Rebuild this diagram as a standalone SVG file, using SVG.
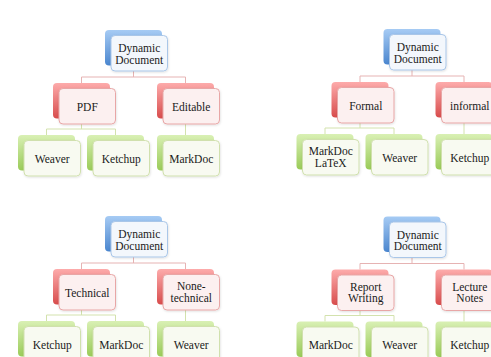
<svg xmlns="http://www.w3.org/2000/svg" width="491" height="357" viewBox="0 0 491 357">
<defs>
<linearGradient id="gB" x1="0" y1="0" x2="0" y2="1"><stop offset="0" stop-color="#a6cbf4"/><stop offset="1" stop-color="#4a86cf"/></linearGradient>
<linearGradient id="gR" x1="0" y1="0" x2="0" y2="1"><stop offset="0" stop-color="#fdabab"/><stop offset="1" stop-color="#d84c4c"/></linearGradient>
<linearGradient id="gG" x1="0" y1="0" x2="0" y2="1"><stop offset="0" stop-color="#d9f0b4"/><stop offset="1" stop-color="#9acb58"/></linearGradient>
<linearGradient id="gL" x1="0" y1="0" x2="1" y2="0"><stop offset="0" stop-color="#e6e6e6" stop-opacity="0.3"/><stop offset="0.5" stop-color="#dcdcdc"/><stop offset="1" stop-color="#eeeeee" stop-opacity="0.2"/></linearGradient>
<filter id="sh" x="-20%" y="-20%" width="140%" height="140%"><feDropShadow dx="0.5" dy="1" stdDeviation="1" flood-color="#000" flood-opacity="0.12"/></filter>
</defs>
<style>
.bb{stroke:none}
.b .bb{fill:url(#gB)}
.r .bb{fill:url(#gR)}
.g .bb{fill:url(#gG)}
.fb{stroke-width:1;filter:url(#sh)}
.b .fb{fill:#f3f7fc;stroke:#a9c6e8}
.r .fb{fill:#fcf0f0;stroke:#e8a6a6}
.g .fb{fill:#f8faf1;stroke:#d0e0ad}
text{font-family:"Liberation Serif","Times New Roman",serif;font-size:11.5px;fill:#1a1a1a;text-anchor:middle}
.c1{fill:none;stroke:#e6b3b3;stroke-width:1}
.c2{fill:none;stroke:#d3e2ad;stroke-width:1}
</style>
<line x1="0" y1="12" x2="108" y2="12" stroke="url(#gL)" stroke-width="1"/>

<!-- Panel TL -->
<g id="panel-tl">
<g id="tl-connectors">
<path class="c1" d="M133.5 65V77M81.5 83V77H185.5V83"/>
<path class="c2" d="M81.5 118V129M46.5 135V129H115.5V135"/>
<path class="c2" d="M185.5 118V135"/>
</g>
<g id="tl-root" class="b" transform="translate(105,30)"><rect class="bb" width="57" height="35.5" rx="4"/><rect class="fb" x="6" y="5.5" width="56.5" height="35.5" rx="4"/><text x="34.25" y="22">Dynamic</text><text x="34.25" y="33.5">Document</text></g>
<g id="tl-pdf" class="r" transform="translate(53,83)"><rect class="bb" width="57" height="35.5" rx="4"/><rect class="fb" x="6" y="5.5" width="56.5" height="35.5" rx="4"/><text x="34.25" y="27.5">PDF</text></g>
<g id="tl-editable" class="r" transform="translate(157,83)"><rect class="bb" width="57" height="35.5" rx="4"/><rect class="fb" x="6" y="5.5" width="56.5" height="35.5" rx="4"/><text x="34.25" y="27.5">Editable</text></g>
<g id="tl-weaver" class="g" transform="translate(18,135)"><rect class="bb" width="57" height="35.5" rx="4"/><rect class="fb" x="6" y="5.5" width="56.5" height="35.5" rx="4"/><text x="34.25" y="27.5">Weaver</text></g>
<g id="tl-ketchup" class="g" transform="translate(87,135)"><rect class="bb" width="57" height="35.5" rx="4"/><rect class="fb" x="6" y="5.5" width="56.5" height="35.5" rx="4"/><text x="34.25" y="27.5">Ketchup</text></g>
<g id="tl-markdoc" class="g" transform="translate(157,135)"><rect class="bb" width="57" height="35.5" rx="4"/><rect class="fb" x="6" y="5.5" width="56.5" height="35.5" rx="4"/><text x="34.25" y="27.5">MarkDoc</text></g>
</g>

<!-- Panel TR -->
<g id="panel-tr" transform="translate(278.5,-1)">
<g id="tr-connectors">
<path class="c1" d="M133.5 65V77M81.5 83V77H185.5V83"/>
<path class="c2" d="M81.5 118V129M46.5 135V129H115.5V135"/>
<path class="c2" d="M185.5 118V135"/>
</g>
<g id="tr-root" class="b" transform="translate(105,30)"><rect class="bb" width="57" height="35.5" rx="4"/><rect class="fb" x="6" y="5.5" width="56.5" height="35.5" rx="4"/><text x="34.25" y="22">Dynamic</text><text x="34.25" y="33.5">Document</text></g>
<g id="tr-formal" class="r" transform="translate(53,83)"><rect class="bb" width="57" height="35.5" rx="4"/><rect class="fb" x="6" y="5.5" width="56.5" height="35.5" rx="4"/><text x="34.25" y="27.5">Formal</text></g>
<g id="tr-informal" class="r" transform="translate(157,83)"><rect class="bb" width="57" height="35.5" rx="4"/><rect class="fb" x="6" y="5.5" width="56.5" height="35.5" rx="4"/><text x="34.25" y="27.5">informal</text></g>
<g id="tr-markdoc-latex" class="g" transform="translate(18,135)"><rect class="bb" width="57" height="35.5" rx="4"/><rect class="fb" x="6" y="5.5" width="56.5" height="35.5" rx="4"/><text x="34.25" y="21">MarkDoc</text><text x="34.25" y="33">LaTeX</text></g>
<g id="tr-weaver" class="g" transform="translate(87,135)"><rect class="bb" width="57" height="35.5" rx="4"/><rect class="fb" x="6" y="5.5" width="56.5" height="35.5" rx="4"/><text x="34.25" y="27.5">Weaver</text></g>
<g id="tr-ketchup" class="g" transform="translate(157,135)"><rect class="bb" width="57" height="35.5" rx="4"/><rect class="fb" x="6" y="5.5" width="56.5" height="35.5" rx="4"/><text x="34.25" y="27.5">Ketchup</text></g>
</g>

<!-- Panel BL -->
<g id="panel-bl" transform="translate(0,186)">
<g id="bl-connectors">
<path class="c1" d="M133.5 65V77M81.5 83V77H185.5V83"/>
<path class="c2" d="M81.5 118V129M46.5 135V129H115.5V135"/>
<path class="c2" d="M185.5 118V135"/>
</g>
<g id="bl-root" class="b" transform="translate(105,30)"><rect class="bb" width="57" height="35.5" rx="4"/><rect class="fb" x="6" y="5.5" width="56.5" height="35.5" rx="4"/><text x="34.25" y="22">Dynamic</text><text x="34.25" y="33.5">Document</text></g>
<g id="bl-technical" class="r" transform="translate(53,83)"><rect class="bb" width="57" height="35.5" rx="4"/><rect class="fb" x="6" y="5.5" width="56.5" height="35.5" rx="4"/><text x="34.25" y="27.5">Technical</text></g>
<g id="bl-nonetechnical" class="r" transform="translate(157,83)"><rect class="bb" width="57" height="35.5" rx="4"/><rect class="fb" x="6" y="5.5" width="56.5" height="35.5" rx="4"/><text x="34.25" y="21">None-</text><text x="34.25" y="32.5">technical</text></g>
<g id="bl-ketchup" class="g" transform="translate(18,135)"><rect class="bb" width="57" height="35.5" rx="4"/><rect class="fb" x="6" y="5.5" width="56.5" height="35.5" rx="4"/><text x="34.25" y="27.5">Ketchup</text></g>
<g id="bl-markdoc" class="g" transform="translate(87,135)"><rect class="bb" width="57" height="35.5" rx="4"/><rect class="fb" x="6" y="5.5" width="56.5" height="35.5" rx="4"/><text x="34.25" y="27.5">MarkDoc</text></g>
<g id="bl-weaver" class="g" transform="translate(157,135)"><rect class="bb" width="57" height="35.5" rx="4"/><rect class="fb" x="6" y="5.5" width="56.5" height="35.5" rx="4"/><text x="34.25" y="27.5">Weaver</text></g>
</g>

<!-- Panel BR -->
<g id="panel-br" transform="translate(278.5,186.5)">
<g id="br-connectors">
<path class="c1" d="M133.5 65V77M81.5 83V77H185.5V83"/>
<path class="c2" d="M81.5 118V129M46.5 135V129H115.5V135"/>
<path class="c2" d="M185.5 118V135"/>
</g>
<g id="br-root" class="b" transform="translate(105,30)"><rect class="bb" width="57" height="35.5" rx="4"/><rect class="fb" x="6" y="5.5" width="56.5" height="35.5" rx="4"/><text x="34.25" y="22">Dynamic</text><text x="34.25" y="33.5">Document</text></g>
<g id="br-report" class="r" transform="translate(53,83)"><rect class="bb" width="57" height="35.5" rx="4"/><rect class="fb" x="6" y="5.5" width="56.5" height="35.5" rx="4"/><text x="34.25" y="21">Report</text><text x="34.25" y="32.5">Writing</text></g>
<g id="br-lecture" class="r" transform="translate(157,83)"><rect class="bb" width="57" height="35.5" rx="4"/><rect class="fb" x="6" y="5.5" width="56.5" height="35.5" rx="4"/><text x="34.25" y="21">Lecture</text><text x="34.25" y="32.5">Notes</text></g>
<g id="br-markdoc" class="g" transform="translate(18,135)"><rect class="bb" width="57" height="35.5" rx="4"/><rect class="fb" x="6" y="5.5" width="56.5" height="35.5" rx="4"/><text x="34.25" y="27.5">MarkDoc</text></g>
<g id="br-weaver" class="g" transform="translate(87,135)"><rect class="bb" width="57" height="35.5" rx="4"/><rect class="fb" x="6" y="5.5" width="56.5" height="35.5" rx="4"/><text x="34.25" y="27.5">Weaver</text></g>
<g id="br-ketchup" class="g" transform="translate(157,135)"><rect class="bb" width="57" height="35.5" rx="4"/><rect class="fb" x="6" y="5.5" width="56.5" height="35.5" rx="4"/><text x="34.25" y="27.5">Ketchup</text></g>
</g>
</svg>
